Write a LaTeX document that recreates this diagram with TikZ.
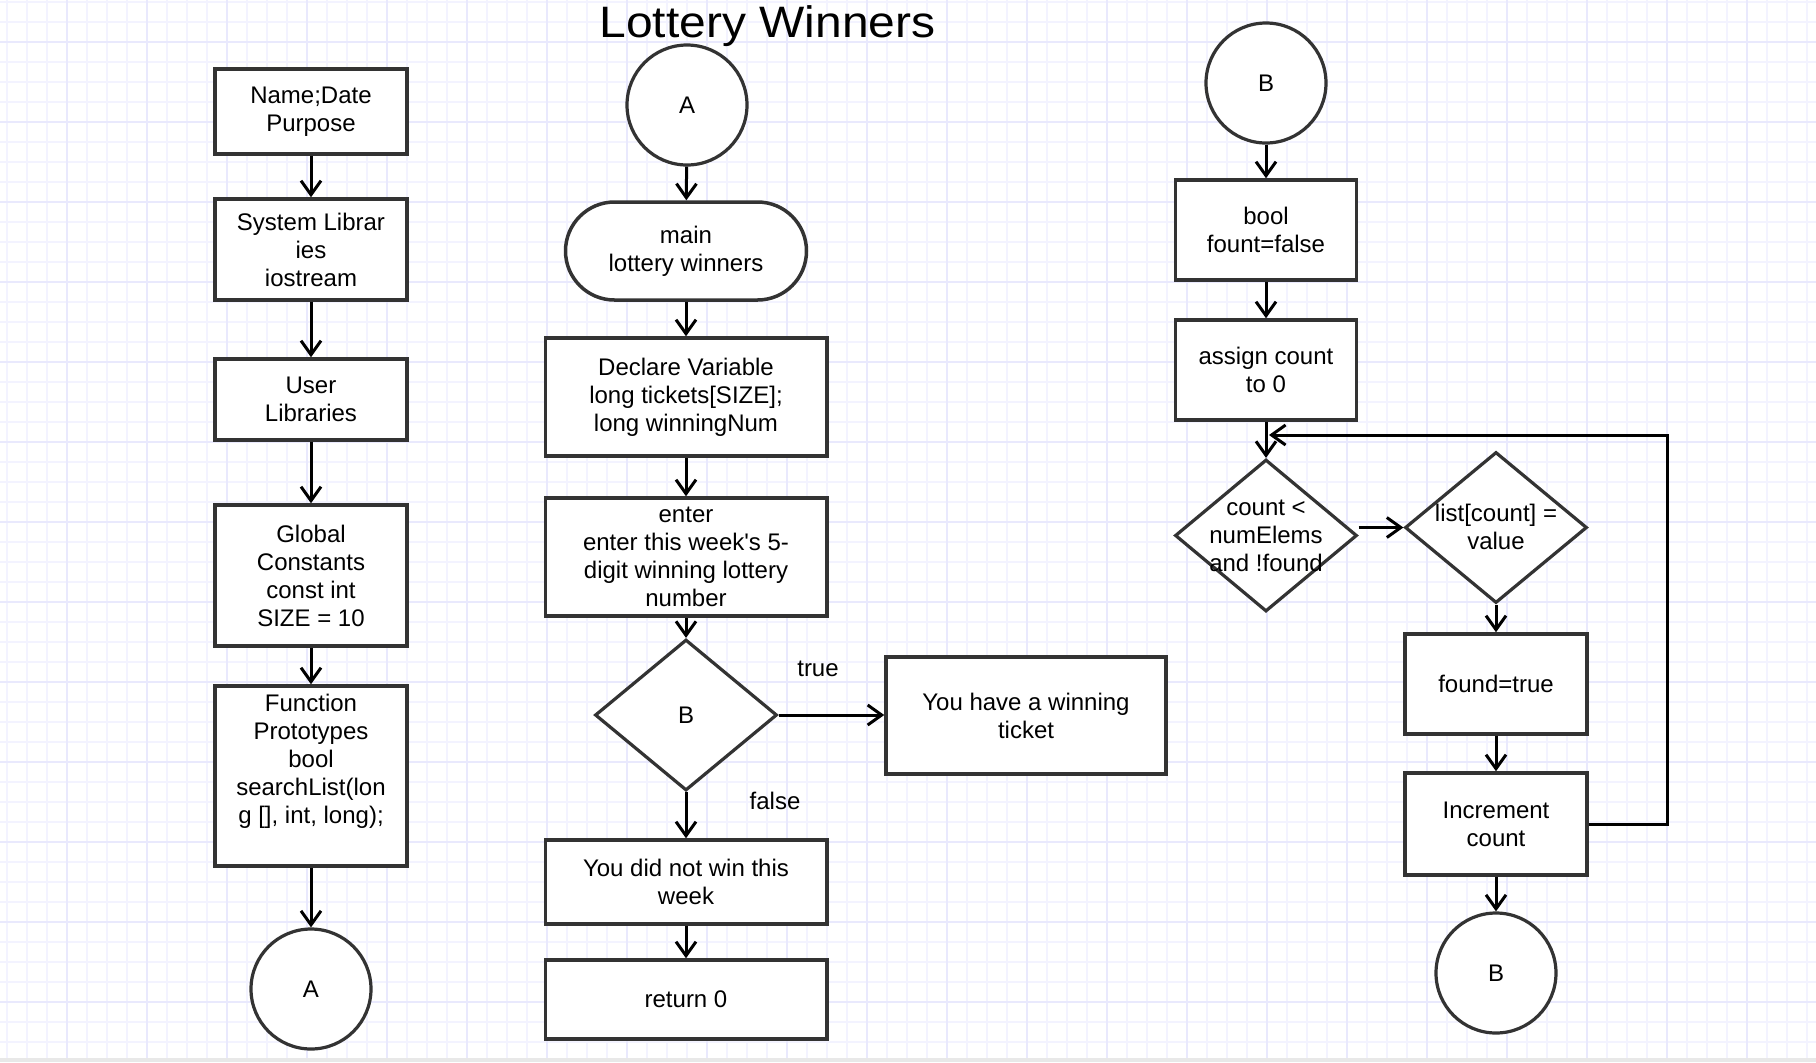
\documentclass[tikz,border=0pt]{standalone}
\usepackage{fontspec}
\usepackage{graphicx}
\setmainfont{Liberation Sans}
\newfontfamily\nomapfont{Liberation Sans}
\usetikzlibrary{shapes.geometric,arrows.meta}
\definecolor{gridminor}{RGB}{243,243,255}
\definecolor{gridmajor}{RGB}{233,233,253}
\definecolor{edgec}{RGB}{51,51,51}
\definecolor{stripc}{RGB}{232,232,232}
\newcommand{\bodyfont}{\fontsize{12}{14}\selectfont}
\begin{document}
\begin{tikzpicture}[x=0.5pt,y=-0.5pt,
  box/.style={draw=edgec, line width=1.75pt, fill=white, align=center, font=\bodyfont, inner sep=0pt},
  conn/.style={draw=edgec, line width=1.6pt, fill=white, circle, minimum size=60pt, inner sep=0pt, font=\bodyfont},
  dia/.style={draw=edgec, line width=1.6pt, fill=white, diamond, inner sep=0pt, aspect=1},
  txt/.style={align=center, font=\bodyfont, inner sep=0pt},
  arr/.style={draw=black, line width=1.5pt, -{Straight Barb[length=7pt,width=10pt]}}
]
\useasboundingbox (0,0) rectangle (1816,1062);
\clip (0,0) rectangle (1816,1062);
% background and grid
\fill[white] (0,0) rectangle (1816,1062);
\foreach \k in {0,...,90} {\draw[gridminor, line width=0.8pt] ({7+20*\k},0) -- ({7+20*\k},1058);}
\foreach \k in {0,...,52} {\draw[gridminor, line width=0.8pt] (0,{2+20*\k}) -- (1816,{2+20*\k});}
\foreach \k in {0,...,21} {\draw[gridmajor, line width=1pt] ({67+80*\k},0) -- ({67+80*\k},1058);}
\foreach \k in {0,...,12} {\draw[gridmajor, line width=1pt] (0,{42+80*\k}) -- (1816,{42+80*\k});}
\fill[stripc] (0,1058) rectangle (1816,1062);

% title
\node[anchor=base, font=\fontsize{22}{26}\selectfont, inner sep=0pt] (title) at (767.5,37.7) {\scalebox{1.09}[1]{Lottery Winners}};

% left column
\node[box, minimum width=96pt, minimum height=42.5pt] (name) at (311,111.5) {Name;Date\\Purpose};
\node[box, minimum width=96pt, minimum height=50.5pt] (sys) at (311,249.5) {System Librar\\ies\\iostream};
\node[box, minimum width=96pt, minimum height=40.5pt] (user) at (311,399.5) {User\\Libraries};
\node[box, minimum width=96pt, minimum height=70.5pt] (glob) at (311,575.5) {Global\\Constants\\const int\\SIZE = 10};
\node[box, minimum width=96pt, minimum height=90pt] (func) at (311,776) {};
\node[txt] (funct) at (311,761) {Function\\Prototypes\\bool\\searchList(lon\\g [], int, long);};
\node[conn] (ca1) at (311,989) {A};

\draw[arr] (name) -- (sys);
\draw[arr] (sys) -- (user);
\draw[arr] (user) -- (glob);
\draw[arr] (glob) -- (func);
\draw[arr] (func) -- (ca1);

% middle column
\node[conn] (ca2) at (687,105) {A};
\node[box, minimum width=120.5pt, minimum height=49pt, rounded corners=24.5pt] (main) at (686,251) {main\\lottery winners};
\node[box, minimum width=140.75pt, minimum height=59pt] (decl) at (686,397) {Declare Variable\\long tickets[SIZE];\\long winningNum};
\node[box, minimum width=140.75pt, minimum height=59pt] (enter) at (686,557) {enter\\enter this week{\nomapfont'}s 5-\\digit winning lottery\\number};
\node[dia, minimum width=91pt, minimum height=75.5pt] (db) at (686,715) {};
\node[txt] (dbt) at (db.center) {B};
\node[box, minimum width=140pt, minimum height=58.5pt] (win) at (1026,715.5) {You have a winning\\ticket};
\node[box, minimum width=140.75pt, minimum height=42pt] (nowin) at (686,882) {You did not win this\\week};
\node[box, minimum width=140.75pt, minimum height=39.5pt] (ret) at (686,999.5) {return 0};
\node[txt] (tlab) at (818,669) {true};
\node[txt] (flab) at (775,801) {false};

\draw[arr] (ca2) -- (main);
\draw[arr] (main) -- (decl);
\draw[arr] (decl) -- (enter);
\draw[arr] (enter) -- (db);
\draw[arr] (db.east) -- (win.west |- db.east);
\draw[arr] (db.south) -- (nowin.north);
\draw[arr] (nowin) -- (ret);

% right columns
\node[conn] (cb1) at (1266,83) {B};
\node[box, minimum width=90.5pt, minimum height=50pt] (bool) at (1266,230) {bool\\fount=false};
\node[box, minimum width=90.5pt, minimum height=50pt] (assign) at (1266,370) {assign count\\to 0};
\node[dia, minimum width=91pt, minimum height=76pt] (count) at (1266,535.5) {};
\node[dia, minimum width=91pt, minimum height=75.5pt] (list) at (1496,527.5) {};
\node[box, minimum width=91pt, minimum height=50pt] (found) at (1496,684) {found=true};
\node[box, minimum width=91pt, minimum height=51pt] (incr) at (1496,824) {Increment\\count};
\node[conn] (cb2) at (1496,973) {B};
\node[txt] (countt) at (1266,536) {count <\\numElems\\and !found};
\node[txt] (listt) at (1496,527) {list[count] =\\value};
\coordinate (loopc) at (1667,435);
\coordinate (join) at (1269,435);

\draw[arr] (cb1) -- (bool);
\draw[arr] (bool) -- (assign);
\draw[arr] (assign.south) -- (count.north);
\draw[arr] (count.east |- list.west) -- (list.west);
\draw[arr] (list.south) -- (found.north);
\draw[arr] (found) -- (incr);
\draw[arr] (incr) -- (cb2);
\draw[arr] (incr.east) -| (loopc) -- (join);
\end{tikzpicture}
\end{document}
